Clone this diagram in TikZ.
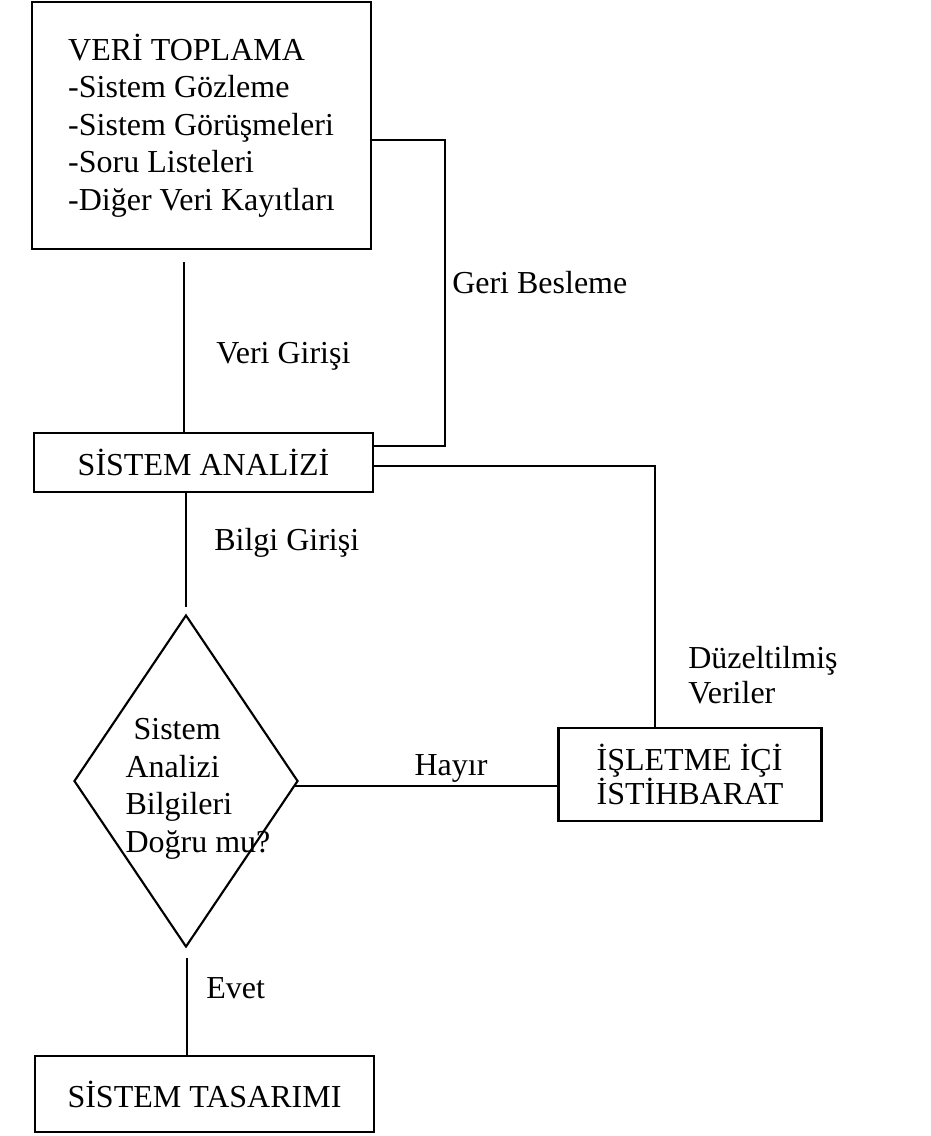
\documentclass[tikz,border=0pt]{standalone}
\usepackage{fontspec}
\setmainfont{Liberation Serif}
\usetikzlibrary{positioning,shapes.geometric}

\begin{document}
\begin{tikzpicture}[x=0.75pt,y=-0.75pt,
  kutu/.style={draw,line width=1.6pt,inner sep=0pt},
  hat/.style={line width=1.3pt},
  etiket/.style={inner sep=0pt,anchor=west}]
  \def\yazi{\fontsize{24}{28.2}\selectfont}
  \useasboundingbox (0,0) rectangle (931,1136);

  \node[kutu,minimum width=254.25pt,minimum height=185.25pt,align=left,font=\yazi] (veri) at (201.5,125.5)
  {VERİ TOPLAMA\\-Sistem Gözleme\\-Sistem Görüşmeleri\\-Soru Listeleri\\-Diğer Veri Kayıtları};

  \node[kutu,minimum width=254.25pt,minimum height=44.25pt,font=\yazi] (sa) at (203.5,462.5) {SİSTEM ANALİZİ};

  \node[kutu,shape=diamond,minimum width=168pt,minimum height=249pt] (karar) at (186,781) {};
  \node[inner sep=0pt,align=left,font=\yazi] (soru) at (198,789)
  {\hspace*{0.25em}Sistem\\Analizi\\Bilgileri\\Doğru mu?};

  \node[kutu,minimum width=197.25pt,minimum height=69.75pt,align=left,
    font=\fontsize{24}{25.5}\selectfont] (isl) at (690,774.5) {İŞLETME İÇİ\\İSTİHBARAT};

  \node[kutu,minimum width=254.25pt,minimum height=57pt,font=\yazi] (tas) at (204.5,1094) {SİSTEM TASARIMI};

  % baglantilar
  \coordinate (v1) at (184,262);
  \draw[hat] (v1) -- (v1 |- sa.north);
  \node[etiket,font=\yazi] (vgl) at (216,356) {Veri Girişi};

  \coordinate (gb1) at (445,140);
  \coordinate (gb2) at (445,446);
  \draw[hat] (veri.east |- gb1) -- (gb1) -- (gb2) -- (sa.east |- gb2);
  \node[etiket,font=\yazi] (gbl) at (452,283) {Geri Besleme};

  \coordinate (dz) at (655,466);
  \draw[hat] (sa.east |- dz) -- (dz) -- (dz |- isl.north);
  \node[etiket,align=left,font=\fontsize{24}{26}\selectfont] (dzl) at (688,675) {Düzeltilmiş\\Veriler};

  \draw[hat] (sa.south -| karar.north) -- ([yshift=5pt]karar.north);
  \node[etiket,font=\yazi] (bgl) at (214,543) {Bilgi Girişi};

  \coordinate (hy) at (295,786);
  \draw[hat] (hy) -- (hy -| isl.west);
  \node[inner sep=0pt,font=\yazi] (hyr) at (451,768) {Hayır};

  \coordinate (ev) at (187,958);
  \draw[hat] (ev) -- (ev |- tas.north);
  \node[etiket,font=\yazi] (evl) at (206,988) {Evet};
\end{tikzpicture}
\end{document}
